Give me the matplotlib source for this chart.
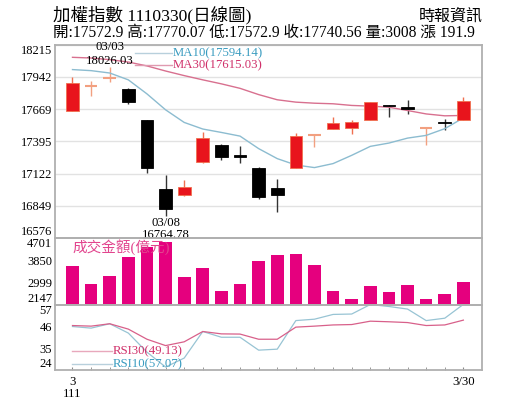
import numpy as np
import matplotlib
matplotlib.use("Agg")
import matplotlib.pyplot as plt

plt.rcParams['font.family'] = ['Liberation Serif', 'Noto Sans CJK TC', 'DejaVu Sans']

# daily candles, 2022/03 (111年3月)
opens = [17655, 17862, 17928, 17841, 17575, 16992, 16939, 17218, 17368, 17283, 17173,
         17001, 17170, 17438, 17500, 17505, 17579, 17702, 17685, 17508, 17562, 17572.9]
highs = [17945, 17911, 18026.03, 17845, 17580, 17111, 17066, 17474, 17370, 17356, 17175,
         17080, 17466, 17455, 17601, 17573, 17728, 17705, 17742, 17514, 17581, 17770.07]
lows = [17650, 17784, 17897, 17708, 17131, 16764.78, 16935, 17215, 17241, 17212, 16903,
        16798, 17168, 17347, 17498, 17460, 17577, 17598, 17629, 17362, 17488, 17572.9]
closes = [17891, 17869, 17934, 17731, 17173, 16818, 17009, 17427, 17260, 17262, 16922,
          16937, 17440, 17446, 17553, 17556, 17725, 17694, 17674, 17511, 17548.66, 17740.56]

ma10 = [18004, 17995, 17975, 17917, 17798, 17663, 17556, 17500, 17471, 17440, 17334,
        17249, 17195, 17173, 17207, 17277, 17353, 17381, 17423, 17446, 17503, 17594.14]
ma30 = [18108, 18102, 18088, 18068, 18035, 17992, 17953, 17917, 17883, 17845, 17792,
        17748, 17728, 17719, 17714, 17700, 17694, 17685, 17657, 17628, 17612, 17615.03]

volume = [3640, 2945, 3259, 3982, 4350, 4532, 3208, 3550, 2658, 2921, 3810,
          4045, 4072, 3667, 2658, 2371, 2843, 2631, 2894, 2356, 2568, 3008]

rsi30 = [46.4, 46.1, 47.3, 44.6, 39.5, 36.3, 38.2, 43.4, 42.2, 42.1, 39.5,
         39.5, 45.6, 46.1, 46.7, 46.9, 48.6, 48.3, 47.9, 46.4, 46.7, 49.13]
rsi10 = [45.9, 45.1, 47.3, 42.6, 33.0, 25.5, 30.0, 43.4, 40.5, 40.5, 34.0,
         34.5, 48.9, 49.6, 52.0, 52.2, 57.0, 56.0, 54.7, 48.9, 50.1, 57.07]

price_ticks = [16576, 16849, 17122, 17395, 17669, 17942, 18215]
vol_ticks = [2147, 2999, 3850, 4701]
rsi_ticks = [24, 35, 46, 57]

x = np.arange(len(closes))

RED = '#e8141c'
RED_WICK = '#f07050'
BORDER = '#b0b0b0'

fig = plt.figure(figsize=(5.15, 4.13), dpi=100)
W, H = 515.0, 413.0

def box(l, t, r, b):
    return [l / W, 1 - b / H, (r - l) / W, (b - t) / H]

ax = fig.add_axes(box(55, 44.7, 482, 238))
axv = fig.add_axes(box(55, 238, 482, 304.5))
axr = fig.add_axes(box(55, 304.5, 482, 370))

for a in (ax, axv, axr):
    a.set_xlim(-0.94, 22.0)
    for s in a.spines.values():
        s.set_color(BORDER)
        s.set_linewidth(1.3)
    a.tick_params(axis='y', length=0, pad=2, labelsize=9)

axv.set_facecolor('none')
axr.set_facecolor('none')

# ---- price panel
ax.set_ylim(price_ticks[0], price_ticks[-1])
ax.set_yticks(price_ticks)
ax.set_yticklabels([str(t) for t in price_ticks])
ax.grid(axis='y', color='#e2e2e2', linewidth=1)
ax.set_xticks([])
ax.set_axisbelow(True)

for i in range(len(closes)):
    o, h, l, c = opens[i], highs[i], lows[i], closes[i]
    up = c >= o
    if abs(c - o) <= 10 and up:
        ax.vlines(i, l, h, color='#f2a080', linewidth=1)
        ax.hlines(c, i - 0.34, i + 0.34, color='#f2a080', linewidth=1.5)
    elif up:
        ax.vlines(i, l, h, color=RED_WICK, linewidth=1)
        ax.bar(i, c - o, bottom=o, width=0.68, color=RED, edgecolor=RED_WICK, linewidth=0.6, zorder=3)
    else:
        ax.vlines(i, l, h, color='#333333', linewidth=1)
        ax.bar(i, max(o - c, 10), bottom=c, width=0.68, color='black', edgecolor='black', linewidth=0.6, zorder=3)

ax.plot(x, ma10, color='#8cbcd0', linewidth=1, zorder=2)
ax.plot(x, ma30, color='#d8708f', linewidth=1, zorder=2)

ax.plot([0.187, 0.274], [0.957, 0.957], transform=ax.transAxes, color='#b8d0dc', linewidth=1)
ax.text(0.276, 0.957, 'MA10(17594.14)', transform=ax.transAxes, color='#3a9cc0',
        fontsize=9.2, va='center', ha='left')
ax.plot([0.187, 0.274], [0.895, 0.895], transform=ax.transAxes, color='#e09ab0', linewidth=1)
ax.text(0.276, 0.895, 'MA30(17615.03)', transform=ax.transAxes, color='#d0306a',
        fontsize=9.2, va='center', ha='left')

ih = int(np.argmax(highs))
il = int(np.argmin(lows))
ax.annotate('18026.03', (ih, highs[ih]), xytext=(0, 6), textcoords='offset pixels',
            ha='center', va='center', fontsize=9.2, annotation_clip=False)
ax.annotate('03/03', (ih, highs[ih]), xytext=(0, 20), textcoords='offset pixels',
            ha='center', va='center', fontsize=9.2, annotation_clip=False)
ax.annotate('03/08', (il, lows[il]), xytext=(0, -7), textcoords='offset pixels',
            ha='center', va='center', fontsize=9.2, annotation_clip=False, zorder=10)
ax.annotate('16764.78', (il, lows[il]), xytext=(0, -19.5), textcoords='offset pixels',
            ha='center', va='center', fontsize=9.2, annotation_clip=False, zorder=10)

lbl = ax.get_yticklabels()
lbl[0].set_va('bottom')
lbl[-1].set_va('top')

# ---- volume panel
axv.bar(x, volume, width=0.68, color='#e5007e')
axv.set_ylim(vol_ticks[0], vol_ticks[-1])
axv.set_yticks(vol_ticks)
axv.set_yticklabels([str(t) for t in vol_ticks])
axv.set_xticks([])
lbl = axv.get_yticklabels()
lbl[0].set_va('bottom')
lbl[-1].set_va('top')
axv.text(0.042, 0.858, '成交金額(億元)', transform=axv.transAxes, color='#e2458e',
         fontsize=10.5, va='center', ha='left', zorder=5)

# ---- RSI panel
axr.plot(x, rsi10, color='#98c4d4', linewidth=0.9)
axr.plot(x, rsi30, color='#d8608a', linewidth=0.9)
axr.set_ylim(rsi_ticks[0], rsi_ticks[-1])
axr.set_yticks(rsi_ticks)
axr.set_yticklabels([str(t) for t in rsi_ticks])
lbl = axr.get_yticklabels()
lbl[0].set_va('bottom')
lbl[-1].set_va('top')

axr.plot([0.04, 0.133], [0.291, 0.291], transform=axr.transAxes, color='#e8a8bc', linewidth=1)
axr.text(0.135, 0.291, 'RSI30(49.13)', transform=axr.transAxes, color='#d0306a',
         fontsize=9.2, va='center', ha='left')
axr.plot([0.04, 0.133], [0.087, 0.087], transform=axr.transAxes, color='#b8d0dc', linewidth=1)
axr.text(0.135, 0.087, 'RSI10(57.07)', transform=axr.transAxes, color='#3a9cc0',
         fontsize=9.2, va='center', ha='left')

axr.set_xticks(x, minor=True)
axr.set_xticks([0, 21])
axr.set_xticklabels(['3\n111', '3/30'], fontsize=9.2, linespacing=1.1, va='top')
axr.tick_params(axis='x', which='both', direction='in', length=2.5, color='#888888', pad=4)

# ---- header
fig.text(53 / W, 1 - 15 / H, '加權指數 1110330(日線圖)', fontsize=12.6, va='center', ha='left')
fig.text(483 / W, 1 - 17 / H, '時報資訊', fontsize=11.5, va='center', ha='right')
fig.text(53 / W, 1 - 33 / H, '開:17572.9 高:17770.07 低:17572.9 收:17740.56 量:3008 漲 191.9',
         fontsize=11.2, va='center', ha='left')

fig.savefig('out.png', dpi=100)
